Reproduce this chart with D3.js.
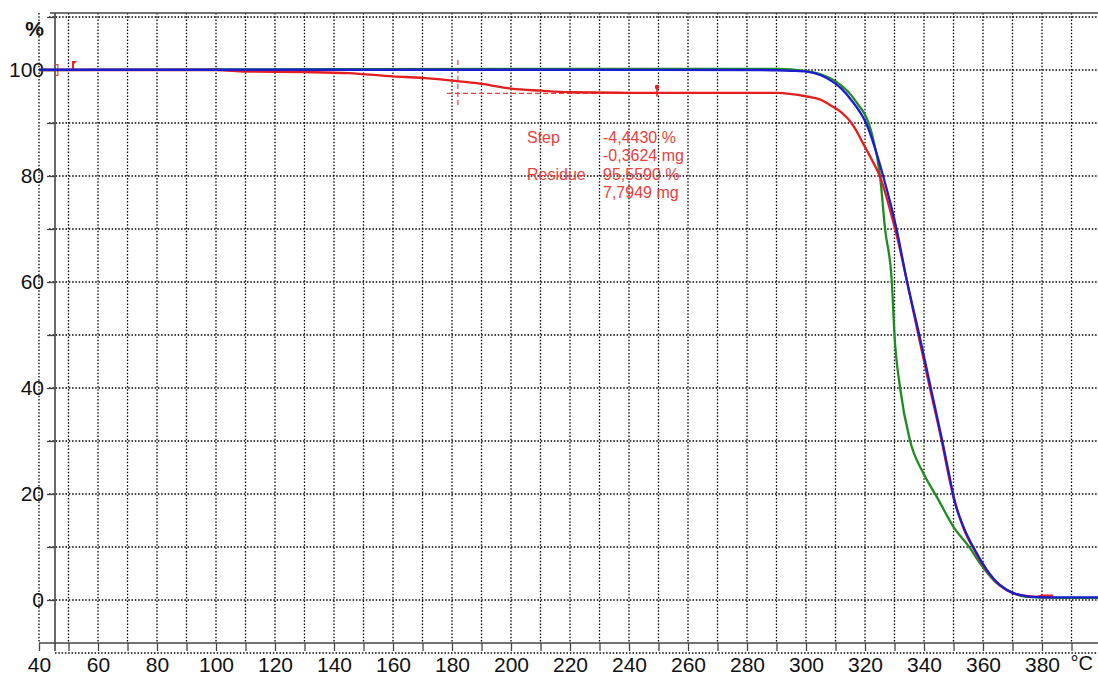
<!DOCTYPE html>
<meta charset="utf-8">
<head>
    <title>TGA curves</title>
    <style>
        body { margin: 0; background: #fff; }
        text { font-family: "Liberation Sans", Arial, sans-serif; }
        .grid line { stroke: #000; stroke-width: 1.3; stroke-dasharray: 1.5,1.8; }
        .axis path { display: none; }
        .axis line { stroke: #444; stroke-width: 1.3; }
        .axis text { font-size: 21px; fill: #111; }
        .note { font-size: 16px; fill: #e8403c; }
    </style>
</head>
<body>
<script src="https://cdn.jsdelivr.net/npm/d3@7"></script>
<script>
// temperatures (°C) and mass (%)
var blueT = [40, 100, 200, 285, 290, 295, 300.3, 305, 309, 312, 315.4, 320.5, 326.2, 330.7, 334.2, 338.4, 342.3, 346.2, 348.9, 350, 353.4, 357.9, 361.3, 365.8, 370.3, 374, 377.1, 385, 399];
var blueW = [100.05, 100.05, 100.05, 100.0, 99.95, 99.85, 99.7, 99.0, 97.8, 96.5, 94.3, 89.8, 79.9, 70, 60.2, 50, 40, 30, 22.6, 19.5, 13.8, 8.8, 5.7, 2.8, 1.3, 0.8, 0.6, 0.5, 0.5];

var greenT = [40, 100, 200, 290, 300, 305, 310, 316.6, 322.3, 325.1, 326.8, 329.1, 330, 331.9, 335.3, 339.8, 344.3, 350, 355.6, 359, 363.5, 369.2, 374.8, 385, 399];
var greenW = [100.0, 100.1, 100.2, 100.2, 99.8, 99.2, 97.9, 94.3, 88, 80, 70, 60, 50, 40, 30, 23.9, 19.5, 13.8, 9.8, 6.9, 3.8, 1.6, 0.6, 0.4, 0.4];

var redT = [40, 100, 110, 130, 145, 160, 170, 180, 190, 200, 210, 220, 240, 280, 290, 300.3, 305, 308.1, 312, 315.4, 317, 319.3, 322, 325, 330.2, 338.1, 342, 346, 348.7, 350, 353.2, 357.7, 361.1, 365.6, 370.1, 374, 378, 380, 383.8];
var redW = [100.0, 100.0, 99.7, 99.6, 99.4, 98.8, 98.5, 98.0, 97.4, 96.5, 96.1, 95.8, 95.7, 95.7, 95.7, 95.0, 94.4, 93.4, 92.0, 90.0, 88.6, 86.2, 83.4, 80.0, 70.0, 50, 40, 30, 22.6, 19.5, 13.8, 8.8, 5.7, 2.8, 1.3, 0.8, 0.6, 0.8, 0.8];

var xTicks = d3.range(40, 400, 10);
var yTicks = d3.range(-10, 111, 10);
var noteLabels = ["Step", "", "Residue", ""];
var noteValues = ["-4,4430 %", "-0,3624 mg", "95,5590 %", "7,7949 mg"];
var stepT = 182, stepW = 95.6, markT = 249.5;

var width = 1098, height = 675;
var svg = d3.select("body").append("svg")
    .attr("width", width)
    .attr("height", height);

var x = d3.scaleLinear().domain([40, 380]).range([39, 1042]);
var y = d3.scaleLinear().domain([0, 100]).range([600, 70]);
var xMax = x.invert(width), yTop = y.invert(13), yBot = y.invert(643), yAxisT = x.invert(55);

// grid
var grid = svg.append("g").attr("class", "grid");
grid.selectAll(".v").data(xTicks).enter().append("line")
    .attr("x1", d => x(d)).attr("x2", d => x(d))
    .attr("y1", y(yTop)).attr("y2", y(yBot));
grid.selectAll(".h").data(yTicks).enter().append("line")
    .attr("x1", d => d < 0 ? x(yAxisT) : 49).attr("x2", width)
    .attr("y1", d => y(d)).attr("y2", d => y(d));

// frame lines
svg.append("line").attr("x1", 50).attr("x2", width)
    .attr("y1", y(yTop)).attr("y2", y(yTop))
    .style("stroke", "#444").style("stroke-width", 1.6);

// axes
var xAxis = svg.append("g").attr("class", "axis")
    .attr("transform", "translate(0," + y(yBot) + ")")
    .call(d3.axisBottom(x).tickValues(xTicks).tickSize(8).tickPadding(6)
        .tickFormat(d => d % 20 === 0 ? d : ""));
svg.append("line").attr("x1", x(40)).attr("x2", width)
    .attr("y1", y(yBot)).attr("y2", y(yBot))
    .style("stroke", "#444").style("stroke-width", 1.6);

var yAxis = svg.append("g").attr("class", "axis")
    .attr("transform", "translate(" + x(yAxisT) + ",0)")
    .call(d3.axisLeft(y).tickValues(d3.range(0, 111, 10)).tickSize(8).tickPadding(3)
        .tickFormat(d => (d % 20 === 0 && d <= 100) ? d : ""));
svg.append("line").attr("x1", x(yAxisT)).attr("x2", x(yAxisT))
    .attr("y1", y(yTop)).attr("y2", y(yBot) + 8)
    .style("stroke", "#444").style("stroke-width", 1.6);

svg.append("text").attr("x", 44).attr("y", 36).attr("text-anchor", "end")
    .style("font-size", "21px").style("font-weight", "bold").style("fill", "#111").text("%");
svg.append("text").attr("x", 1093).attr("y", 670).attr("text-anchor", "end")
    .style("font-size", "20px").style("fill", "#111").text("°C");

// step annotation
var ann = svg.append("g").style("stroke", "#e8403c").style("stroke-width", 1.2).style("fill", "none");
ann.append("line").attr("x1", x(stepT)).attr("x2", x(stepT))
    .attr("y1", y(101.9)).attr("y2", y(93.4)).style("stroke-dasharray", "5,3");
ann.append("line").attr("x1", x(178.3)).attr("x2", x(233))
    .attr("y1", y(stepW)).attr("y2", y(stepW)).style("stroke-dasharray", "5,3");
ann.append("line").attr("x1", x(markT)).attr("x2", x(markT))
    .attr("y1", y(96.8)).attr("y2", y(95.0)).style("stroke-width", 1.8);
svg.append("circle").attr("cx", x(markT)).attr("cy", y(96.8)).attr("r", 2.2).style("fill", "#e02020");
ann.append("path").attr("d", "M" + (x(46.4) - 2) + "," + y(101) + "h2v" + (y(99) - y(101)) + "h-2");
svg.append("path")
    .attr("d", "M" + x(51.2) + "," + y(101.7) + "h5l-3,3v" + (y(100) - y(101.7) - 3) + "h-2z")
    .style("fill", "#e02020");

var notes = svg.append("g");
noteValues.forEach(function(v, i) {
    var by = 143 + i * 18.4;
    notes.append("text").attr("class", "note").attr("x", 527).attr("y", by).text(noteLabels[i]);
    notes.append("text").attr("class", "note").attr("x", 603).attr("y", by).text(v);
});

// curves
var line = d3.line()
    .x(d => x(d[0]))
    .y(d => y(d[1]))
    .curve(d3.curveMonotoneX);

function draw(ts, ws, color) {
    svg.append("path")
        .datum(ts.map((t, i) => [t, ws[i]]))
        .attr("d", line)
        .style("fill", "none")
        .style("stroke", color)
        .style("stroke-width", 2.3);
}
draw(greenT, greenW, "#1f8c1f");
draw(redT, redW, "#e41e1e");
draw(blueT, blueW, "#1c1cd0");
</script>
</body>
